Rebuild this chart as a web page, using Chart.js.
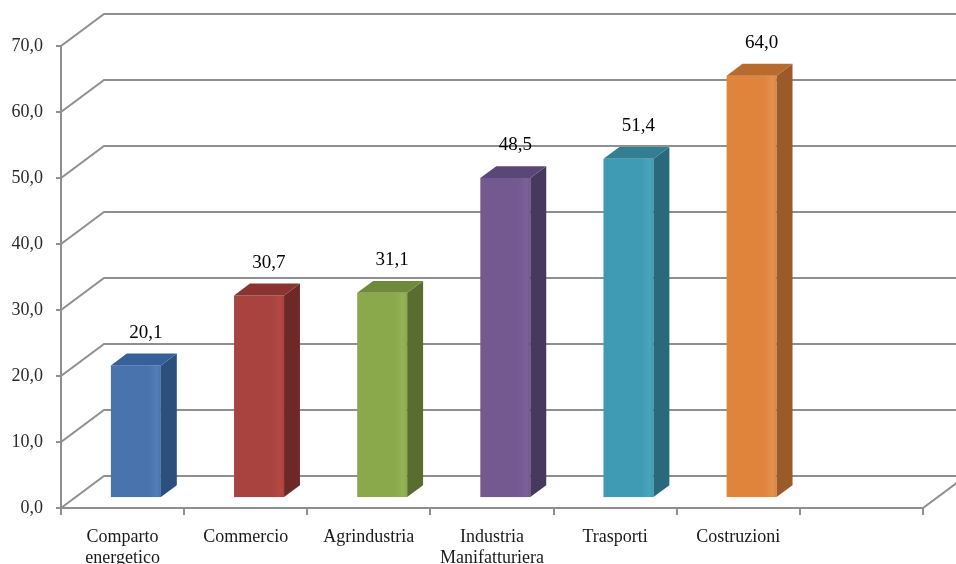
<!DOCTYPE html>
<html>
<head>
<meta charset="utf-8">
<script src="https://cdn.jsdelivr.net/npm/chart.js@4.4.1/dist/chart.umd.min.js"></script>
<style>
  html, body { margin: 0; background: #fff; }
  #wrap { width: 956px; height: 564px; }
</style>
</head>
<body>
<div id="wrap"><canvas id="chart" width="956" height="564"></canvas></div>
<script>
// dati
const categories = [['Comparto', 'energetico'], 'Commercio', 'Agrindustria', ['Industria', 'Manifatturiera'], 'Trasporti', 'Costruzioni', ''];
const values = [20.1, 30.7, 31.1, 48.5, 51.4, 64.0, null];
const yTicks = [0, 10, 20, 30, 40, 50, 60, 70];

// colori delle facce (fronte, lato, sopra)
const frontColors = ['#4873ad', '#a8433f', '#8aa94b', '#73598f', '#3f9bb4', '#e0843c'];
const sideColors = ['#2d4f7b', '#6e2927', '#5a6d30', '#47395e', '#29697b', '#9a5a2a'];
const topColors = ['#36609a', '#8a3431', '#70893b', '#5b4777', '#327f94', '#b86b2e'];

const DEPTH_X = 43, DEPTH_Y = -32;    // profondità del "muro" 3D
const BAR_FRONT = 0.31, BAR_BACK = 0.68;
const GRID = '#8f8f8f';
const SERIF = '"Liberation Serif", "DejaVu Serif", serif';
const fmt = v => v.toFixed(1).replace('.', ',');

const chart3d = {
    id: 'chart3d',
    beforeDatasetsDraw(chart) {
        const { ctx, chartArea: a, scales: { y } } = chart;
        ctx.save();
        ctx.strokeStyle = GRID;
        ctx.lineWidth = 2;
        yTicks.forEach(v => {
            const py = y.getPixelForValue(v);
            ctx.beginPath();
            ctx.moveTo(a.left, py);
            ctx.lineTo(a.left + DEPTH_X, py + DEPTH_Y);
            ctx.lineTo(chart.width, py + DEPTH_Y);
            ctx.stroke();
        });
        // bordo destro del pavimento
        ctx.beginPath();
        ctx.moveTo(a.right, a.bottom);
        ctx.lineTo(a.right + DEPTH_X, a.bottom + DEPTH_Y);
        ctx.stroke();
        ctx.restore();
    },
    afterDatasetsDraw(chart) {
        const { ctx } = chart;
        const meta = chart.getDatasetMeta(0);
        ctx.save();
        meta.data.forEach((bar, i) => {
            if (values[i] == null) return;
            const { x, y, base, width } = bar.getProps(['x', 'y', 'base', 'width'], true);
            const fx = DEPTH_X * BAR_FRONT, fy = DEPTH_Y * BAR_FRONT;
            const bx = DEPTH_X * BAR_BACK, by = DEPTH_Y * BAR_BACK;
            const l = x - width / 2 + fx, r = x + width / 2 + fx;
            const t = y + fy, b = base + fy;
            const ddx = bx - fx, ddy = by - fy;

            // fronte
            const g = ctx.createLinearGradient(l, 0, r, 0);
            g.addColorStop(0, frontColors[i]);
            g.addColorStop(0.75, frontColors[i]);
            g.addColorStop(0.92, Chart.helpers.color(frontColors[i]).lighten(0.08).rgbString());
            g.addColorStop(1, frontColors[i]);
            ctx.fillStyle = g;
            ctx.fillRect(l, t, r - l, b - t);

            // lato
            ctx.fillStyle = sideColors[i];
            ctx.beginPath();
            ctx.moveTo(r, t);
            ctx.lineTo(r + ddx, t + ddy);
            ctx.lineTo(r + ddx, b + ddy);
            ctx.lineTo(r, b);
            ctx.closePath();
            ctx.fill();

            // sopra
            ctx.fillStyle = topColors[i];
            ctx.beginPath();
            ctx.moveTo(l, t);
            ctx.lineTo(l + ddx, t + ddy);
            ctx.lineTo(r + ddx, t + ddy);
            ctx.lineTo(r, t);
            ctx.closePath();
            ctx.fill();

            // etichetta valore
            ctx.fillStyle = '#000';
            ctx.font = '19px ' + SERIF;
            ctx.textAlign = 'center';
            ctx.textBaseline = 'middle';
            ctx.fillText(fmt(values[i]), x + (fx + bx) / 2 + 2, y + by - 21);
        });
        ctx.restore();
    }
};

const ctx = document.getElementById('chart').getContext('2d');

new Chart(ctx, {
    type: 'bar',
    data: {
        labels: categories,
        datasets: [{
            data: values,
            backgroundColor: 'rgba(0,0,0,0)',
            borderWidth: 0,
            categoryPercentage: 1,
            barPercentage: 0.406
        }]
    },
    options: {
        responsive: false,
        animation: false,
        events: [],
        layout: {
            padding: { top: 46, right: 33, bottom: 0, left: 0 }
        },
        plugins: {
            legend: { display: false },
            tooltip: { enabled: false }
        },
        scales: {
            x: {
                grid: {
                    offset: true,
                    drawOnChartArea: false,
                    color: GRID,
                    lineWidth: 2,
                    tickLength: 7
                },
                border: { color: GRID, width: 2 },
                ticks: {
                    autoSkip: false,
                    maxRotation: 0,
                    padding: 11,
                    color: '#1a1a1a',
                    font: { family: SERIF, size: 18, lineHeight: 1.2 }
                },
                afterFit: s => { s.height = 56; }
            },
            y: {
                min: 0,
                max: 70,
                ticks: {
                    stepSize: 10,
                    padding: 13,
                    color: '#2a2a2a',
                    font: { family: SERIF, size: 18 },
                    callback: v => fmt(v)
                },
                grid: {
                    drawOnChartArea: false,
                    color: GRID,
                    lineWidth: 2,
                    tickLength: 5
                },
                border: { color: GRID, width: 2 },
                afterFit: s => { s.width = 61; }
            }
        }
    },
    plugins: [chart3d]
});
</script>
</body>
</html>
